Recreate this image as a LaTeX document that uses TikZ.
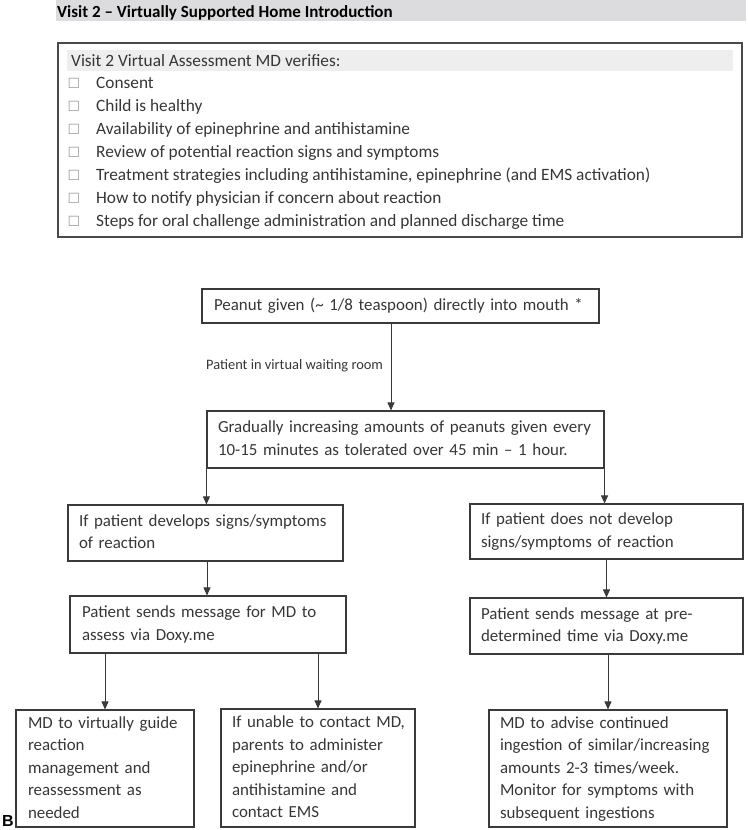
\documentclass[tikz,border=0pt]{standalone}
\usepackage{fontspec}
\setmainfont{Carlito}
\newfontfamily\symfnt{DejaVu Sans}
\newfontfamily\arialfnt{Liberation Sans}
\usetikzlibrary{arrows.meta}
\definecolor{hdrgray}{HTML}{DCDCDE}
\definecolor{bandgray}{HTML}{EEEEEE}
\definecolor{txt}{HTML}{363636}
\definecolor{ln}{HTML}{3A3A3A}
\definecolor{chkln}{HTML}{4A4A4A}
\definecolor{boxgray}{HTML}{9A9A9A}
\newcommand{\bodyfnt}{\fontsize{17.3}{22.5}\selectfont}
\newcommand{\boxfnt}{\fontsize{16.9}{22.5}\selectfont}
\newcommand{\tabtext}[1]{\begin{tabular}{@{}l@{}}#1\end{tabular}}
\begin{document}
\begin{tikzpicture}[x=1pt,y=-1pt,
  fbox/.style={draw=ln, line width=1.1pt, inner ysep=0pt, align=left, font=\boxfnt, text=txt},
  arr/.style={draw=ln, line width=0.9pt, -{Triangle[width=7pt,length=8pt]}},
  item/.style={anchor=base west, inner sep=0pt, font=\bodyfnt, text=txt},
  cbox/.style={inner sep=0pt, font=\symfnt\fontsize{14}{14}\selectfont, text=boxgray},
  ]
\useasboundingbox (0,0) rectangle (747,830);

% header
\fill[hdrgray] (56,0) rectangle (746,21);
\node[anchor=base west, inner sep=0pt, font=\bfseries\fontsize{17}{20}\selectfont] (hdr) at (57,17) {Visit 2 – Virtually Supported Home Introduction};

% checklist
\node[draw=chkln, line width=1.3pt, minimum width=684pt, minimum height=194pt, inner sep=0pt] (chk) at (400,140) {};
\fill[bandgray] (67,50) rectangle (733,71);
\node[item] (ttl) at (71,66) {Visit 2 Virtual Assessment MD verifies:};
\node[cbox] (b1) at (74,83) {☐};  \node[item] (c1) at (96,88) {Consent};
\node[cbox] (b2) at (74,106) {☐}; \node[item] (c2) at (96,111) {Child is healthy};
\node[cbox] (b3) at (74,129) {☐}; \node[item] (c3) at (96,134) {Availability of epinephrine and antihistamine};
\node[cbox] (b4) at (74,152) {☐}; \node[item] (c4) at (96,157) {Review of potential reaction signs and symptoms};
\node[cbox] (b5) at (74,175) {☐}; \node[item] (c5) at (96,180) {Treatment strategies including antihistamine, epinephrine (and EMS activation)};
\node[cbox] (b6) at (74,198) {☐}; \node[item] (c6) at (96,203) {How to notify physician if concern about reaction};
\node[cbox] (b7) at (74,221) {☐}; \node[item] (c7) at (96,226) {Steps for oral challenge administration and planned discharge time};

% flow boxes
\node[fbox, inner xsep=12pt, text width=373pt, minimum height=34pt] (p) at (400.5,306)
  {\tabtext{Peanut given (\textasciitilde{} 1/8 teaspoon) directly into mouth *}};
\node[fbox, inner xsep=11pt, text width=375pt, minimum height=57pt] (g) at (405.5,439.5)
  {\tabtext{Gradually increasing amounts of peanuts given every\\10-15 minutes as tolerated over 45 min – 1 hour.}};
\node[fbox, inner xsep=11pt, text width=253pt, minimum height=56pt] (l1) at (205.5,533)
  {\tabtext{If patient develops signs/symptoms\\of reaction}};
\node[fbox, inner xsep=12pt, text width=252pt, minimum height=57pt] (l2) at (208,624.5)
  {\tabtext{Patient sends message for MD to\\assess via Doxy.me}};
\node[fbox, inner xsep=11pt, text width=251pt, minimum height=55pt] (r1) at (606.5,531.5)
  {\tabtext{If patient does not develop\\signs/symptoms of reaction}};
\node[fbox, inner xsep=11pt, text width=251pt, minimum height=56pt] (r2) at (606.5,626)
  {\tabtext{Patient sends message at pre-\\determined time via Doxy.me}};
\node[fbox, inner xsep=12pt, text width=154pt, minimum height=117pt] (bl) at (105,768.5)
  {\tabtext{MD to virtually guide\\reaction\\management and\\reassessment as\\needed}};
\node[fbox, inner xsep=11pt, text width=172pt, minimum height=118pt] (bm) at (318,768)
  {\tabtext{If unable to contact MD,\\parents to administer\\epinephrine and/or\\antihistamine and\\contact EMS}};
\node[fbox, inner xsep=11pt, text width=216pt, minimum height=117pt] (br) at (608,768.5)
  {\tabtext{MD to advise continued\\ingestion of similar/increasing\\amounts 2-3 times/week.\\Monitor for symptoms with\\subsequent ingestions}};

% label
\node[anchor=west, inner sep=0pt, font=\fontsize{14.4}{17}\selectfont, text=txt] (lbl) at (206,366) {Patient in virtual waiting room};

% arrows
\draw[arr] ([xshift=-9.5pt]p.south) -- ([xshift=-9.5pt]p.south |- g.north);
\draw[arr] ([yshift=16pt]g.south west) -- (g.south west |- l1.north);
\draw[arr] ([yshift=16pt]g.south east) -- (g.south east |- r1.north);
\draw[arr] ([xshift=1.5pt]l1.south) -- ([xshift=1.5pt]l1.south |- l2.north);
\draw[arr] (bl.north |- l2.south) -- (bl.north);
\draw[arr] (bm.north |- l2.south) -- (bm.north);
\draw[arr] (r1.south) -- (r1.south |- r2.north);
\draw[arr] (br.north |- r2.south) -- (br.north);

% panel letter
\node[anchor=base west, inner sep=0pt, font=\arialfnt\bfseries\fontsize{16}{18}\selectfont] (blab) at (2,826) {B};
\end{tikzpicture}
\end{document}
